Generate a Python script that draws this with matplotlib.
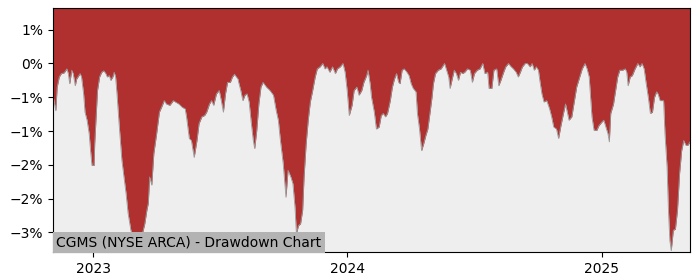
import pandas as pd
import matplotlib
matplotlib.use('Agg')
import matplotlib.pyplot as plt

# drawdown chart CGMS
start_date = '2022-11-04'
# days after start_date
day_offsets = [
    0, 4, 6, 9, 12, 16, 20, 22, 24, 27, 29, 32, 34, 39, 41, 44, 46, 49, 52, 54,
    56, 59, 60, 62, 64, 67, 70, 73, 76, 78, 81, 83, 86, 88, 90, 92, 95, 99, 102, 105,
    108, 112, 115, 119, 121, 124, 126, 129, 132, 135, 137, 139, 142, 145, 149, 153, 156, 160, 163, 168,
    173, 176, 181, 186, 190, 192, 196, 199, 203, 207, 210, 214, 218, 221, 225, 228, 231, 235, 239, 242,
    245, 248, 251, 255, 258, 261, 263, 266, 267, 270, 273, 276, 279, 282, 285, 288, 290, 293, 296, 299,
    302, 307, 312, 317, 321, 324, 327, 331, 335, 338, 342, 345, 348, 350, 353, 356, 359, 361, 364, 367,
    370, 373, 377, 380, 384, 388, 391, 394, 398, 402, 406, 409, 413, 417, 420, 423, 426, 430, 433, 437,
    440, 444, 447, 451, 453, 456, 458, 462, 465, 469, 472, 475, 478, 481, 485, 488, 491, 494, 497, 499,
    502, 505, 509, 512, 515, 518, 522, 524, 527, 530, 533, 536, 539, 542, 545, 547, 550, 554, 558, 563,
    566, 569, 571, 574, 577, 580, 583, 586, 589, 592, 596, 600, 603, 606, 610, 614, 618, 621, 625, 627,
    631, 634, 638, 641, 644, 648, 651, 655, 658, 662, 666, 669, 672, 675, 679, 682, 686, 689, 692, 695,
    698, 700, 703, 706, 710, 714, 717, 720, 724, 727, 730, 734, 737, 740, 742, 746, 749, 753, 758, 761,
    765, 768, 771, 773, 775, 778, 782, 785, 789, 792, 795, 798, 800, 802, 806, 809, 812, 815, 819, 823,
    825, 827, 830, 833, 837, 841, 844, 847, 850, 853, 856, 859, 862, 865, 868, 870, 873, 878, 880, 883,
    885, 887, 889, 892, 895, 898, 901, 904, 907, 910, 913, 916,
]
drawdown = [
    -0.47, -0.70, -0.35, -0.20, -0.15, -0.14, -0.08, -0.15, -0.30, -0.10, -0.15, -0.33, -0.23, -0.15, -0.20, -0.45, -0.72, -0.84, -1.04, -1.29,
    -1.51, -1.51, -1.18, -0.79, -0.40, -0.20, -0.13, -0.11, -0.15, -0.20, -0.18, -0.25, -0.20, -0.13, -0.20, -0.45, -0.89, -1.43, -1.68, -1.92,
    -2.22, -2.47, -2.57, -2.50, -2.62, -2.77, -2.62, -2.50, -2.37, -2.17, -2.07, -1.68, -1.80, -1.33, -1.04, -0.72, -0.65, -0.55, -0.60, -0.62,
    -0.55, -0.57, -0.60, -0.65, -0.67, -0.79, -1.11, -1.14, -1.39, -1.14, -0.89, -0.79, -0.77, -0.72, -0.60, -0.55, -0.62, -0.45, -0.40, -0.55,
    -0.72, -0.45, -0.28, -0.28, -0.20, -0.16, -0.19, -0.23, -0.28, -0.40, -0.55, -0.47, -0.45, -0.57, -0.87, -1.14, -1.26, -0.99, -0.60, -0.35,
    -0.28, -0.35, -0.40, -0.47, -0.70, -0.84, -1.14, -1.48, -1.98, -1.58, -1.68, -1.78, -2.13, -2.52, -2.40, -2.37, -2.17, -1.68, -1.19, -0.84,
    -0.57, -0.42, -0.20, -0.08, -0.05, 0.00, -0.08, -0.05, -0.13, -0.05, -0.15, -0.08, -0.05, 0.00, -0.13, -0.40, -0.77, -0.62, -0.40, -0.35,
    -0.47, -0.40, -0.28, -0.18, -0.10, -0.30, -0.50, -0.72, -0.97, -0.94, -0.77, -0.74, -0.79, -0.74, -0.55, -0.35, -0.23, -0.15, -0.28, -0.30,
    -0.10, -0.08, -0.13, -0.18, -0.30, -0.37, -0.42, -0.74, -0.97, -1.29, -1.19, -1.07, -0.97, -0.74, -0.50, -0.30, -0.15, -0.10, -0.08, 0.00,
    -0.10, -0.20, -0.37, -0.23, -0.10, -0.15, -0.25, -0.13, -0.15, -0.13, -0.08, -0.10, -0.28, -0.15, -0.10, -0.08, 0.00, -0.15, -0.13, -0.37,
    -0.37, -0.10, -0.08, -0.33, -0.25, -0.13, -0.05, 0.00, -0.04, -0.08, -0.13, -0.20, -0.13, -0.05, 0.00, 0.00, -0.05, 0.00, -0.10, -0.05,
    -0.10, -0.25, -0.45, -0.57, -0.55, -0.67, -0.79, -0.94, -0.97, -1.11, -0.94, -0.74, -0.60, -0.74, -0.84, -0.79, -0.60, -0.35, -0.18, -0.08,
    0.00, -0.08, -0.20, -0.50, -0.79, -0.99, -0.99, -0.92, -0.87, -0.84, -0.94, -1.04, -1.16, -0.74, -0.60, -0.40, -0.20, -0.10, -0.10, -0.08,
    -0.13, -0.33, -0.20, -0.18, -0.08, 0.00, -0.05, 0.00, -0.08, -0.30, -0.50, -0.74, -0.72, -0.50, -0.42, -0.45, -0.55, -0.55, -1.04, -1.53,
    -2.17, -2.62, -2.77, -2.47, -2.45, -2.17, -1.63, -1.29, -1.14, -1.21, -1.21, -1.16,
]
ytick_values = [0.5, 0.0, -0.5, -1.0, -1.5, -2.0, -2.5]
ytick_labels = ['1%', '0%', '\u22121%', '\u22121%', '\u22122%', '\u22122%', '\u22123%']
title = 'CGMS (NYSE ARCA) - Drawdown Chart'

dates = pd.to_datetime(start_date) + pd.to_timedelta(day_offsets, unit='D')

fig = plt.figure(figsize=(7, 2.8), dpi=100)
ax = fig.add_axes([0.0757, 0.1, 0.91, 0.8714])
ax.set_facecolor('#eeeeee')

# red area from the drawdown line up to the top of the axes
ax.fill_between(dates, drawdown, 1.0, color='#b03030', linewidth=0)
ax.plot(dates, drawdown, color='#999999', linewidth=0.6)

ax.set_xlim(dates[0], dates[-1])
ax.set_ylim(-2.79, 0.82)
ax.set_yticks(ytick_values)
ax.set_yticklabels(ytick_labels)
ax.set_xticks(pd.to_datetime(['2023-01-01', '2024-01-01', '2025-01-01']))
ax.set_xticklabels(['2023', '2024', '2025'])

ax.text(0.005, 0.012, title, transform=ax.transAxes, ha='left', va='bottom',
        fontsize=10, bbox=dict(facecolor='#b3b3b3', edgecolor='none', pad=2.5))

fig.savefig('out.png', dpi=100)
